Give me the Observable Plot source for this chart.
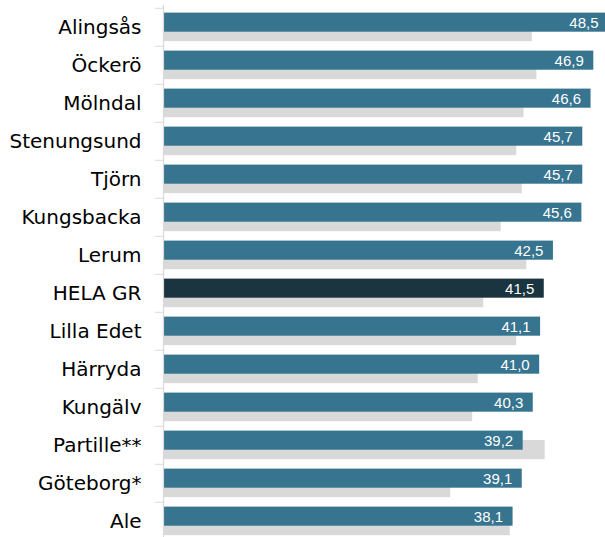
<!DOCTYPE html>
<html>
<head>
<meta charset="utf-8">
<script src="https://cdn.jsdelivr.net/npm/d3@7"></script>
<script src="https://cdn.jsdelivr.net/npm/@observablehq/plot@0.6"></script>
<style>
  html, body { margin: 0; padding: 0; background: #fff; overflow: hidden; }
  #chart { width: 605px; height: 537px; overflow: hidden; }
</style>
</head>
<body>
<div id="chart"></div>
<script>
const categories = ["Alingsås", "Öckerö", "Mölndal", "Stenungsund", "Tjörn", "Kungsbacka", "Lerum", "HELA GR", "Lilla Edet", "Härryda", "Kungälv", "Partille**", "Göteborg*", "Ale"];
const currentValues = [48.5, 46.9, 46.6, 45.7, 45.7, 45.6, 42.5, 41.5, 41.1, 41.0, 40.3, 39.2, 39.1, 38.1];
const previousValues = [40.2, 40.7, 39.3, 38.5, 39.1, 36.8, 39.6, 34.9, 38.5, 34.3, 33.7, 41.6, 31.3, 37.8];
const highlight = "HELA GR";

const data = categories.map((c, i) => ({ name: c, current: currentValues[i], previous: previousValues[i] }));

const band = 38.4;
const top0 = 5.3;

const chart = Plot.plot({
  width: 605,
  height: 537,
  marginTop: 5,
  marginBottom: 0,
  marginLeft: 163,
  marginRight: 0,
  style: { fontFamily: "'Liberation Sans', Arial, sans-serif", overflow: "hidden" },
  x: { domain: [0, 50], range: [163, 163 + 9.175 * 50], axis: null, label: null },
  y: { domain: categories, range: [top0, top0 + band * categories.length], padding: 0, axis: null, label: null },
  marks: [
    Plot.barX(data, { y: "name", x: "previous", fill: "#d9d9d9", insetTop: 14, insetBottom: 4.8 }),
    Plot.barX(data, { y: "name", x: "current", fill: d => d.name === highlight ? "#1a3440" : "#36748f", insetTop: 4.6, insetBottom: 14.3 }),
    Plot.text(data, { y: "name", x: "current", text: d => d.current.toFixed(1).replace(".", ","), fill: "white", textAnchor: "end", dx: -10, dy: -4.6, fontSize: 15 }),
    Plot.ruleX([0], { stroke: "#d9d9d9", strokeWidth: 1.2 }),
    Plot.axisY({ anchor: "left", tickFormat: null, tickSize: 8, stroke: "#d9d9d9", dy: -band / 2, label: null }),
    Plot.axisY({ anchor: "left", tickSize: 0, tickPadding: 22, fontSize: 20, fontFamily: "'DejaVu Sans', sans-serif", fill: "#000", dy: 0.5, label: null })
  ]
});
document.getElementById("chart").appendChild(chart);
</script>
</body>
</html>
